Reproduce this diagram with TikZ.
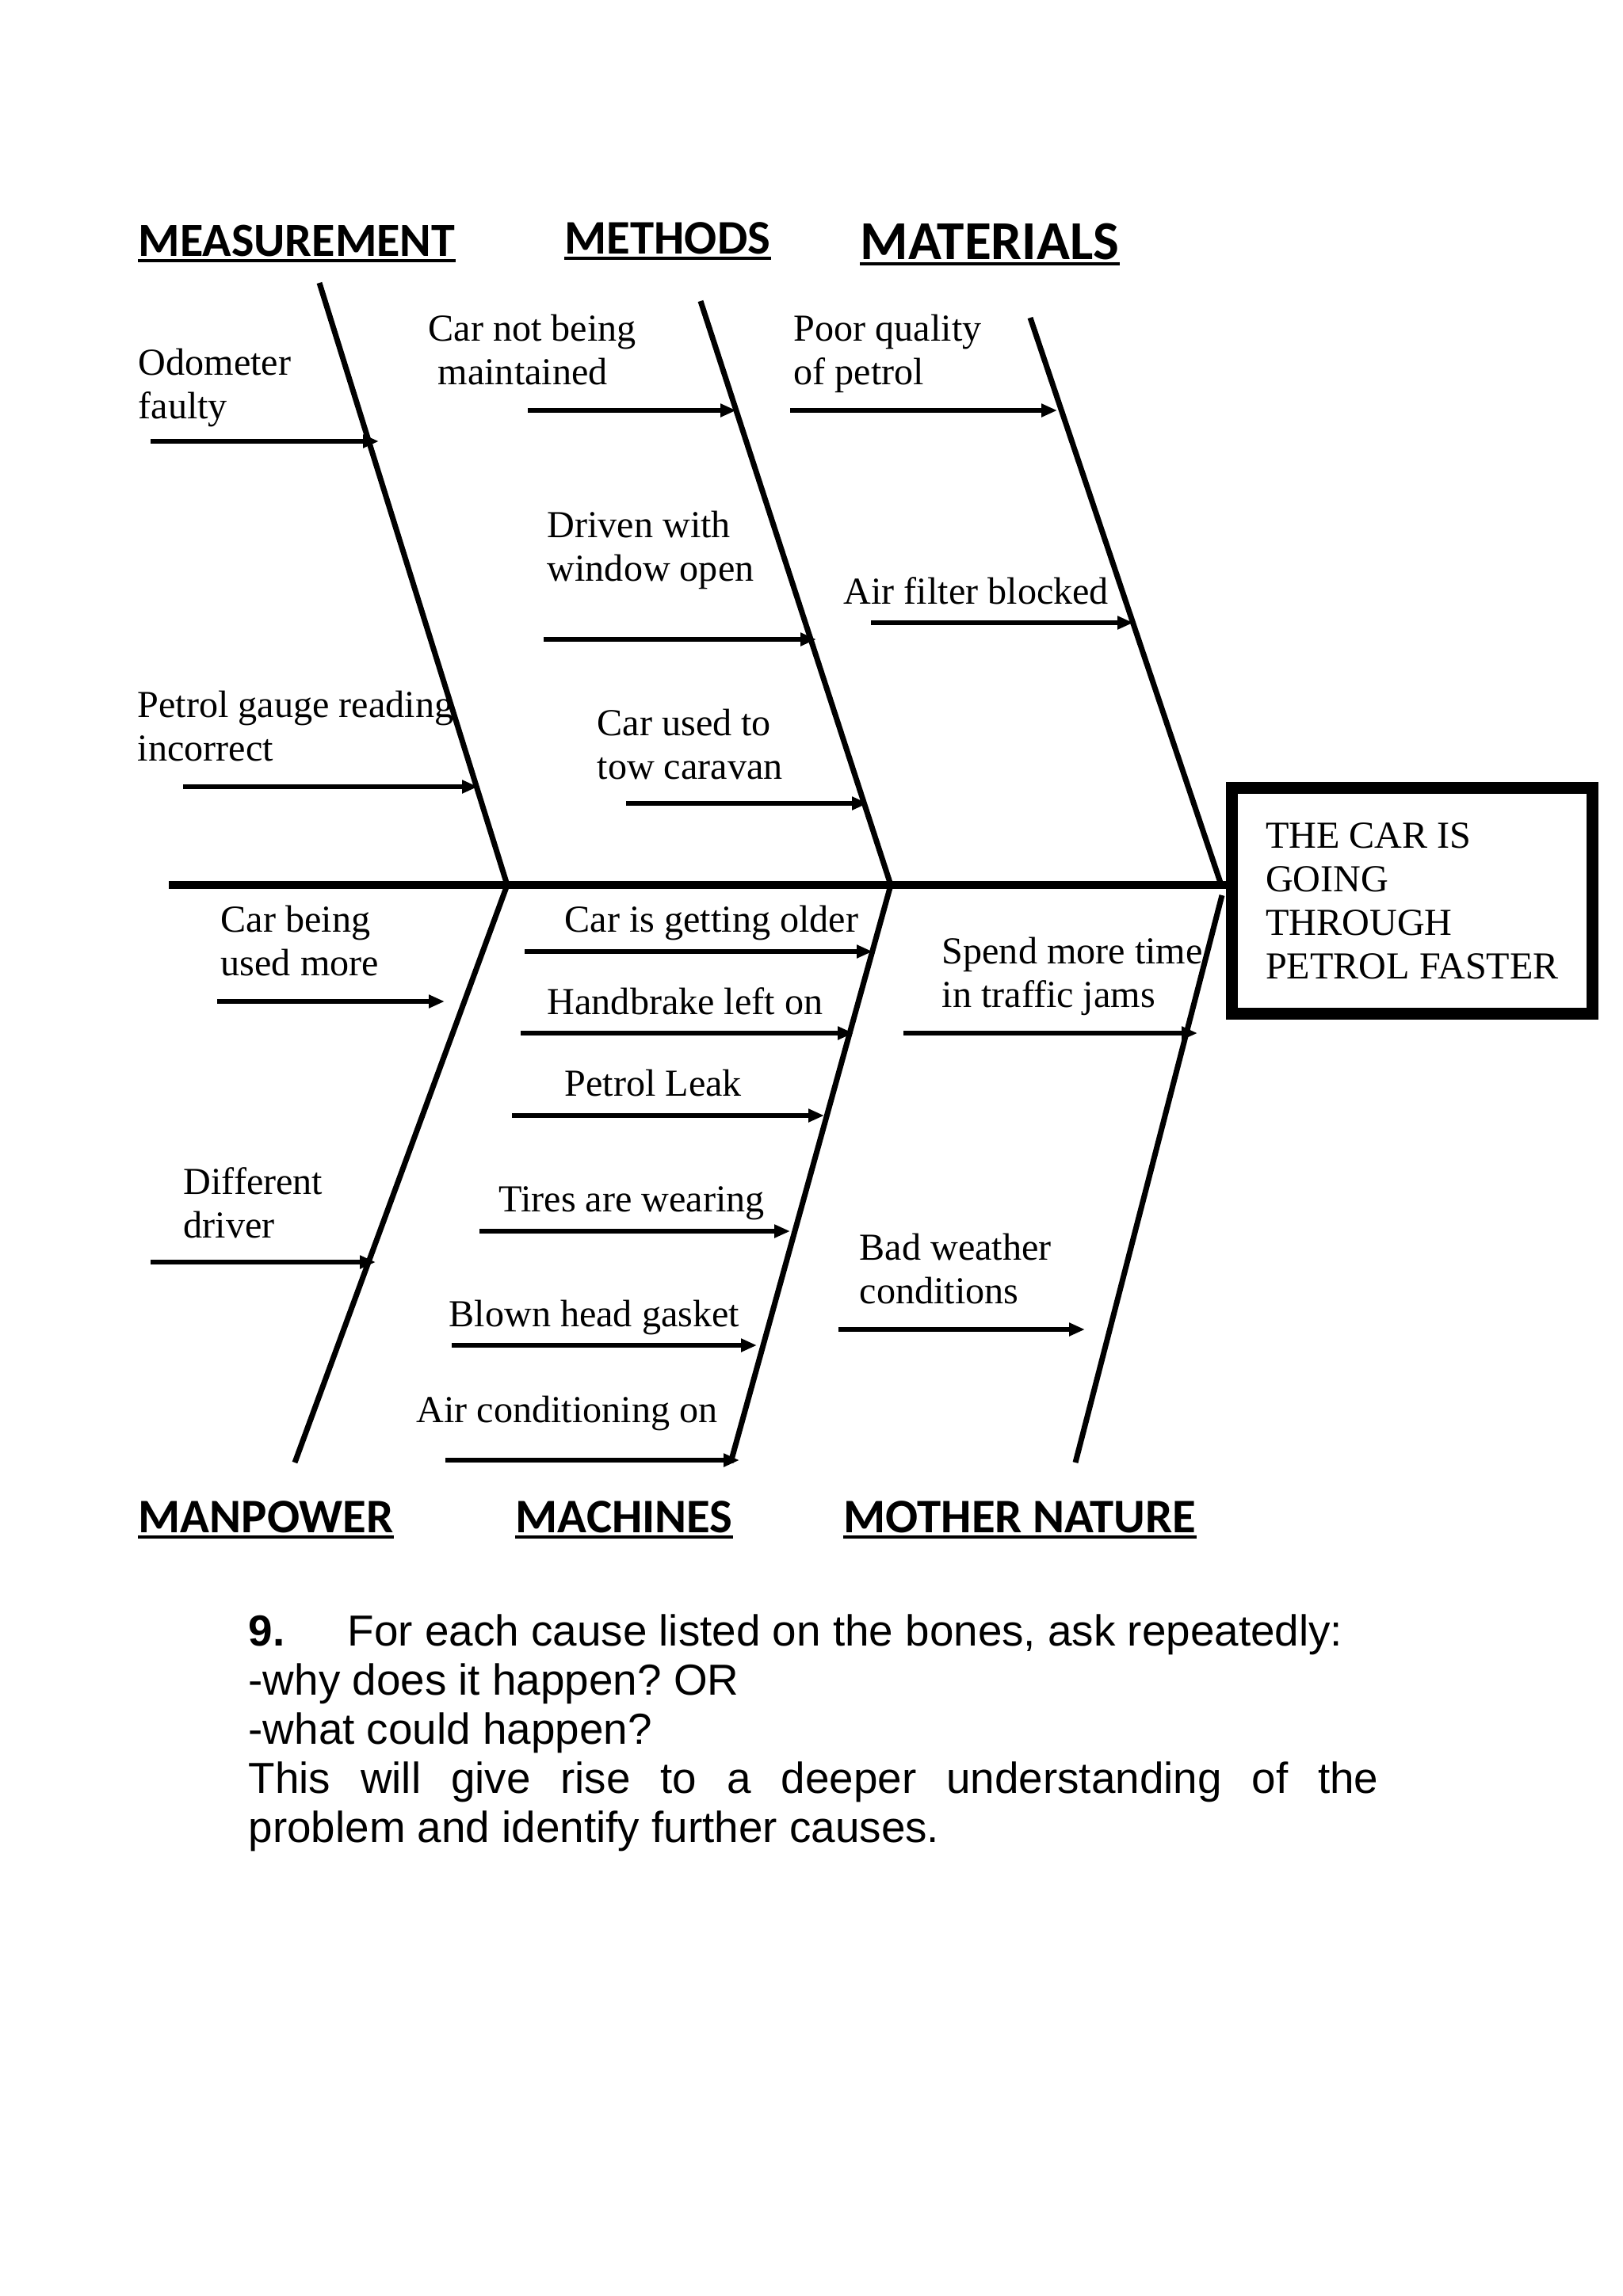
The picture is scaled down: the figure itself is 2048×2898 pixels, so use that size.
\documentclass[tikz,border=0pt]{standalone}
\usepackage{fontspec}
\setmainfont{Liberation Serif}
\newfontfamily\headfont{Carlito}
\newfontfamily\notefont{Liberation Sans}
\usetikzlibrary{arrows.meta}
\frenchspacing

\newcommand{\causefont}{\fontsize{13.7}{15.65}\selectfont}
\newcommand{\boneheadfont}{\headfont\bfseries\fontsize{17.3}{20}\selectfont}

\begin{document}
\begin{tikzpicture}[x=0.1mm, y=-0.1mm, >={Triangle[length=2mm,width=1.6mm]}]

    \useasboundingbox (0,0) rectangle (2048,2898);

    % Effect box and spine %
    \node[draw, line width=1.5mm, minimum width=45.5mm, minimum height=28.5mm, align=left, inner sep=0pt, font=\causefont] (effect) at (1782,1137) {THE CAR IS\\GOING\\THROUGH\\PETROL FASTER};
    \coordinate (tail) at (213,1117);
    \draw[line width=1mm] (tail) -- (tail -| effect.west);

    % Bones %
    \begin{scope}[line width=0.7mm]
        \coordinate (j1) at (640,1117);
        \coordinate (j2) at (1124,1117);
        \coordinate (j3) at (1541,1117);
        \coordinate (b1) at (403,357);   % Measurement %
        \coordinate (b2) at (884,380);   % Methods %
        \coordinate (b3) at (1300,401);  % Materials %
        \coordinate (b4) at (372,1846);  % Manpower %
        \coordinate (b5) at (922,1846);  % Machines %
        \coordinate (b6) at (1357,1846); % Mother Nature %
        \coordinate (j6) at (1542,1130);
        \draw (b1) -- (j1) -- (b4);
        \draw (b2) -- (j2) -- (b5);
        \draw (b3) -- (j3);
        \draw (j6) -- (b6);
    \end{scope}

    % Category headings %
    \begin{scope}[every node/.style={anchor=base west, inner sep=0pt, font=\boneheadfont}]
        \node[font=\headfont\bfseries\fontsize{17.1}{20}\selectfont] (meas) at (174,323) {MEASUREMENT};
        \node (meth) at (712,320) {METHODS};
        \node[font=\headfont\bfseries\fontsize{19.7}{23}\selectfont] (mat) at (1085,327) {MATERIALS};
        \node (manp) at (174,1934) {MANPOWER};
        \node (mach) at (650,1934) {MACHINES};
        \node (moth) at (1064,1934) {MOTHER NATURE};
    \end{scope}
    \foreach \h in {meas,meth,mat,manp,mach,moth}
        \draw[line width=0.4mm] ([yshift=-0.6mm]\h.base west) -- ([yshift=-0.6mm]\h.base east);

    % Causes (base = last line) %
    \begin{scope}[every node/.style={anchor=base west, align=left, inner sep=0pt, font=\causefont}]
        \node (c1) at (174,528) {Odometer\\faulty};
        \node (c2) at (173,960) {Petrol gauge reading\\incorrect};
        \node (c3) at (540,485) {Car not being\\\ maintained};
        \node (c4) at (690,733) {Driven with\\window open};
        \node (c5) at (753,983) {Car used to\\tow caravan};
        \node (c6) at (1001,485) {Poor quality\\of petrol};
        \node (c7) at (1064,762) {Air filter blocked};
        \node (c8) at (278,1231) {Car being\\used more};
        \node (c9) at (231,1562) {Different\\driver};
        \node (c10) at (712,1176) {Car is getting older};
        \node (c11) at (690,1280) {Handbrake left on};
        \node (c12) at (712,1383) {Petrol Leak};
        \node (c13) at (629,1529) {Tires are wearing};
        \node (c14) at (566,1674) {Blown head gasket};
        \node (c15) at (525,1795) {Air conditioning on};
        \node (c16) at (1188,1271) {Spend more time\\in traffic jams};
        \node (c17) at (1084,1645) {Bad weather\\conditions};
    \end{scope}

    % Cause arrows %
    \coordinate (s1) at (190,557);   \coordinate (t1) at (478,557);
    \coordinate (s2) at (231,993);   \coordinate (t2) at (603,993);
    \coordinate (s3) at (666,518);   \coordinate (t3) at (929,518);
    \coordinate (s4) at (686,807);   \coordinate (t4) at (1030,807);
    \coordinate (s5) at (790,1014);  \coordinate (t5) at (1095,1014);
    \coordinate (s6) at (997,518);   \coordinate (t6) at (1334,518);
    \coordinate (s7) at (1099,786);  \coordinate (t7) at (1430,786);
    \coordinate (s8) at (274,1264);  \coordinate (t8) at (561,1264);
    \coordinate (s9) at (190,1593);  \coordinate (t9) at (474,1593);
    \coordinate (s10) at (662,1201); \coordinate (t10) at (1101,1201);
    \coordinate (s11) at (657,1304); \coordinate (t11) at (1077,1304);
    \coordinate (s12) at (646,1408); \coordinate (t12) at (1040,1408);
    \coordinate (s13) at (605,1554); \coordinate (t13) at (997,1554);
    \coordinate (s14) at (570,1698); \coordinate (t14) at (955,1698);
    \coordinate (s15) at (562,1843); \coordinate (t15) at (933,1843);
    \coordinate (s16) at (1140,1304); \coordinate (t16) at (1511,1304);
    \coordinate (s17) at (1058,1678); \coordinate (t17) at (1369,1678);

    \begin{scope}[every edge/.style={draw, line width=0.6mm}]
        \path [->] (s1) edge (t1);
        \path [->] (s2) edge (t2);
        \path [->] (s3) edge (t3);
        \path [->] (s4) edge (t4);
        \path [->] (s5) edge (t5);
        \path [->] (s6) edge (t6);
        \path [->] (s7) edge (t7);
        \path [->] (s8) edge (t8);
        \path [->] (s9) edge (t9);
        \path [->] (s10) edge (t10);
        \path [->] (s11) edge (t11);
        \path [->] (s12) edge (t12);
        \path [->] (s13) edge (t13);
        \path [->] (s14) edge (t14);
        \path [->] (s15) edge (t15);
        \path [->] (s16) edge (t16);
        \path [->] (s17) edge (t17);
    \end{scope}

    % Step note below the diagram %
    \node[anchor=base west, inner sep=0pt, text width=142.6mm, align=justify, font=\notefont\fontsize{15.6}{17.64}\selectfont] (note) at (313,2077)
        {\makebox[12.5mm][l]{\textbf{9.}}For each cause listed on the bones, ask repeatedly:\\
         -why does it happen? OR\\
         -what could happen?\\
         This will give rise to a deeper understanding of the\linebreak problem and identify further causes.};

\end{tikzpicture}
\end{document}
